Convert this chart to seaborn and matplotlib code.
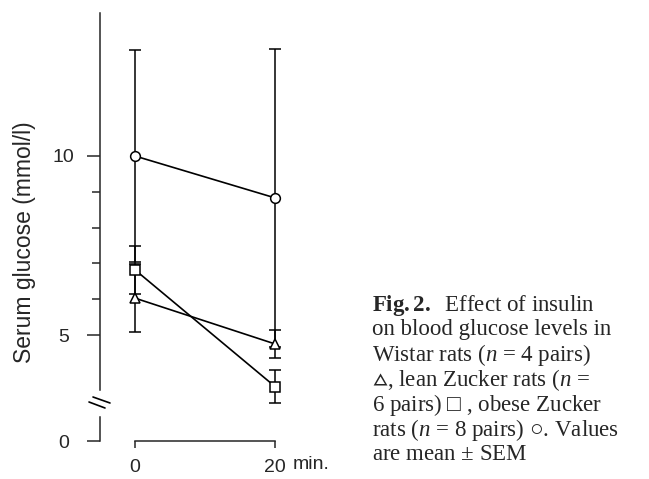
import matplotlib
matplotlib.use("Agg")
import matplotlib.pyplot as plt
import seaborn as sns
import pandas as pd
from matplotlib.lines import Line2D

# ---- data ----
times = [0, 20]
groups = ["Wistar", "lean Zucker", "obese Zucker"]
wistar_mean = [6.03, 4.75]
wistar_sem = [0.95, 0.39]
lean_mean = [6.82, 3.56]
lean_sem = [0.68, 0.46]
obese_mean = [10.0, 8.83]
obese_sem = [2.95, 4.17]
ytick_major = [5, 10]
ytick_minor = [6, 7, 8, 9]
xtick_labels = ["0", "20"]

sns.set_style("ticks")
plt.rcParams["font.family"] = ["Liberation Sans", "DejaVu Sans"]
plt.rcParams["mathtext.fontset"] = "custom"
plt.rcParams["mathtext.rm"] = "Liberation Serif"
plt.rcParams["mathtext.it"] = "Liberation Serif:italic"
plt.rcParams["mathtext.bf"] = "Liberation Serif:bold"

W, H = 649, 479
fig = plt.figure(figsize=(W / 100, H / 100), dpi=100)
fig.patch.set_facecolor("white")

def px_to_fig(x0, x1, ytop, ybot):
    return [x0 / W, 1 - ybot / H, (x1 - x0) / W, (ybot - ytop) / H]

# scale: 35.8 px per mmol/l ; 7 px per minute
ppu = 35.8
xlo, xhi = -5.0, 26.14
ax = fig.add_axes(px_to_fig(100, 318, 335 - (14.0 - 5) * ppu, 335 + (5 - 3.0) * ppu))
ax2 = fig.add_axes(px_to_fig(100, 318, 441 - 0.9 * ppu, 441 + 0.5 * ppu))
for a in (ax, ax2):
    a.set_facecolor("none")
    a.set_xlim(xlo, xhi)
    a.spines["top"].set_visible(False)
    a.spines["right"].set_visible(False)
    a.spines["left"].set_linewidth(1.1)
    a.spines["bottom"].set_linewidth(1.1)
ax.set_ylim(3.0, 14.0)
ax2.set_ylim(-0.5, 0.9)

df = pd.DataFrame({
    "time": times * 3,
    "glucose": wistar_mean + lean_mean + obese_mean,
    "group": [groups[0]] * 2 + [groups[1]] * 2 + [groups[2]] * 2,
})

# error bars
for m, s in [(wistar_mean, wistar_sem), (lean_mean, lean_sem), (obese_mean, obese_sem)]:
    ax.errorbar(times, m, yerr=s, fmt="none", ecolor="black", elinewidth=1.1,
                capsize=4, capthick=1.1, zorder=1, clip_on=False)

sns.lineplot(data=df, x="time", y="glucose", style="group",
             markers={"Wistar": "^", "lean Zucker": "s", "obese Zucker": "o"},
             dashes=False, color="black", linewidth=1.2, markersize=7,
             markerfacecolor="white", markeredgecolor="black", markeredgewidth=1.1,
             legend=False, ax=ax, zorder=3, clip_on=False)

# upper axis
ax.spines["bottom"].set_visible(False)
ax.tick_params(axis="x", bottom=False, labelbottom=False)
ax.set_xlabel("")
ax.spines["left"].set_bounds(3.45, 14.0)
ax.set_yticks(ytick_major)
ax.set_yticklabels([str(v) for v in ytick_major])
ax.set_yticks(ytick_minor, minor=True)
ax.tick_params(axis="y", which="major", length=9.5, width=1.1, direction="out",
               labelsize=14, pad=17)
ax.tick_params(axis="y", which="minor", length=6, width=1.1, direction="out")
for t in ax.get_yticklabels():
    t.set_ha("center")
ax.set_ylabel("Serum glucose (mmol/l)", fontsize=16.5)
ax.yaxis.set_label_coords(-0.295, 0.418)

# lower axis
ax2.spines["left"].set_bounds(0, 0.67)
ax2.spines["bottom"].set_position(("data", 0))
ax2.spines["bottom"].set_bounds(times[0], times[-1])
ax2.set_yticks([0])
ax2.set_yticklabels(["0"])
ax2.tick_params(axis="y", length=9.5, width=1.1, labelsize=14, pad=17)
for t in ax2.get_yticklabels():
    t.set_ha("center")
ax2.set_xticks(times)
ax2.set_xticklabels(xtick_labels)
ax2.tick_params(axis="x", length=5, width=1.1, direction="out", labelsize=14, pad=8)
ax2.annotate("min.", xy=(times[-1], 0), xycoords="data", xytext=(13, -17),
             textcoords="offset points", ha="left", va="center", fontsize=14)

# axis break marks
for (x0, y0, x1, y1) in [(93, 397, 110, 403), (89, 402, 105, 408)]:
    fig.add_artist(Line2D([x0 / W, x1 / W], [1 - y0 / H, 1 - y1 / H],
                          color="black", lw=1.2, transform=fig.transFigure))

# caption
lines = [
    r"$\mathbf{Fig{.}2{.}}$  Effect of insulin",
    r"on blood glucose levels in",
    r"Wistar rats ($n$ = 4 pairs)",
    "$\u25b5$, lean Zucker rats ($n$ =",
    "6 pairs) $\u25a1$ , obese Zucker",
    "rats ($n$ = 8 pairs) $\\bigcirc$. Values",
    r"are mean $\pm$ SEM",
]
ys = [305, 330, 355, 380, 405, 430, 455]
for s, y in zip(lines, ys):
    fig.text(372 / W, 1 - y / H, s, ha="left", va="center", fontsize=16.5,
             family="Liberation Serif")

fig.savefig("out.png", dpi=100)
